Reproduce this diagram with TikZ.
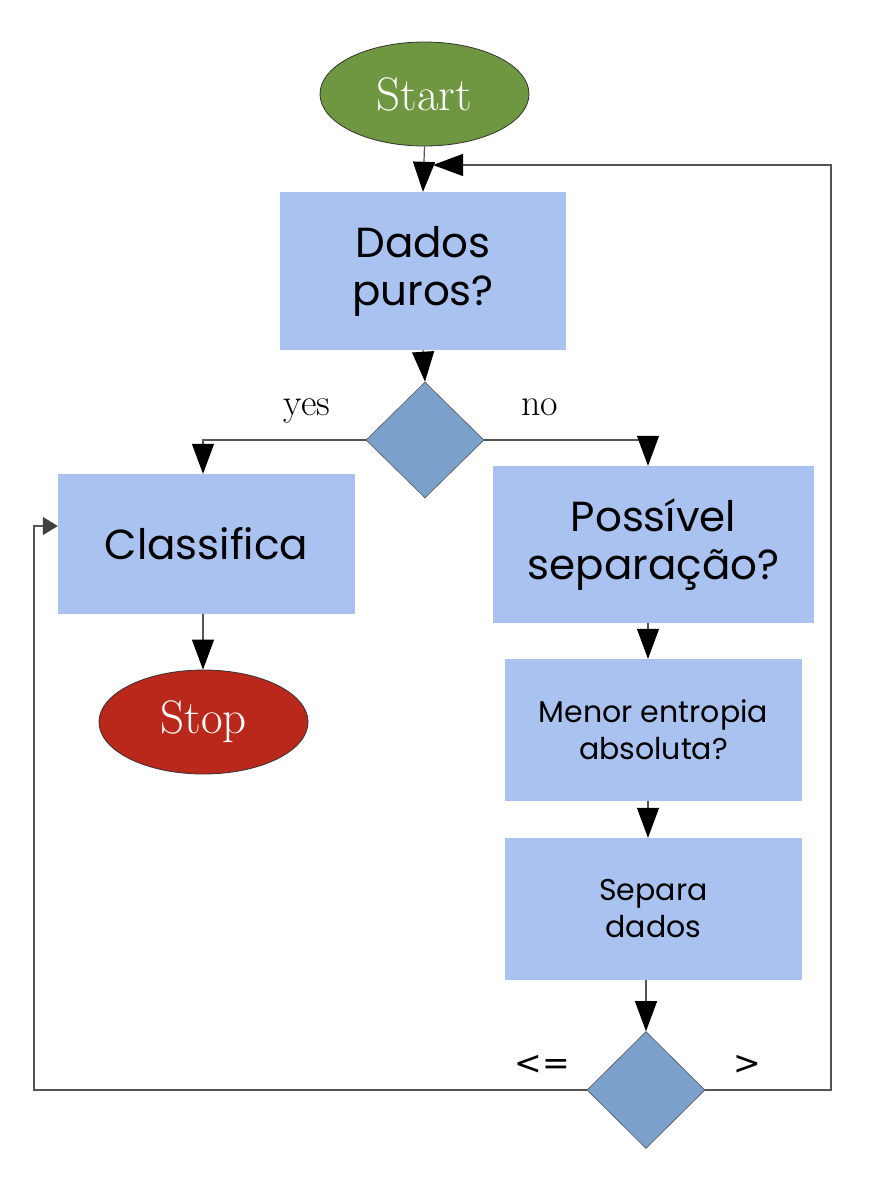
\documentclass[tikz,border=0pt]{standalone}
\usepackage{fontspec}
\newfontfamily\pop{Poppins}
\newfontfamily\djv{DejaVu Sans}
\usetikzlibrary{shapes.geometric,arrows.meta}
\definecolor{boxblue}{RGB}{170,194,239}
\definecolor{diablue}{RGB}{122,160,203}
\definecolor{startgreen}{RGB}{111,150,64}
\definecolor{stopred}{RGB}{186,39,27}
\definecolor{linegrey}{RGB}{85,85,85}
\tikzset{
  procbox/.style={rectangle, fill=boxblue, draw=none, inner sep=0pt, align=center, text=black, font=\pop\fontsize{42}{48}\selectfont},
  smallbox/.style={procbox, font=\pop\fontsize{30}{37}\selectfont},
  decide/.style={diamond, fill=diablue, draw=black!65, line width=0.6pt, inner sep=0pt},
  term/.style={ellipse, draw=black!80, line width=0.8pt, inner sep=0pt, text=white, font=\fontsize{47}{50}\selectfont},
  flow/.style={draw=linegrey, line width=1.2pt, -{Triangle[length=30pt,width=22pt,color=black]}},
  loopline/.style={draw=linegrey, line width=1.2pt},
  lbl/.style={font=\fontsize{38}{40}\selectfont, anchor=base},
  slbl/.style={font=\djv\fontsize{33}{36}\selectfont},
}
\begin{document}
\begin{tikzpicture}[x=1pt,y=-1pt]
\useasboundingbox (0,0) rectangle (896,1186);
\node[term, fill=startgreen, minimum width=209pt, minimum height=104pt] (start) at (424.5,94) {Start};
\node[procbox, minimum width=286pt, minimum height=158pt] (dados) at (423,271) {Dados\\puros?};
\node[decide, minimum width=118pt, minimum height=116pt] (d1) at (425,440) {};
\node[procbox, minimum width=297pt, minimum height=140pt] (classifica) at (206.5,544) {Classifica};
\node[procbox, minimum width=321pt, minimum height=157pt] (possivel) at (653.5,544.5) {Possível\\separação?};
\node[term, fill=stopred, minimum width=209pt, minimum height=104pt] (stop) at (203.5,722) {Stop};
\node[smallbox, minimum width=297pt, minimum height=142pt] (menor) at (653.5,730) {Menor entropia\\absoluta?};
\node[smallbox, minimum width=297pt, minimum height=142pt] (separa) at (653.5,909) {Separa\\dados};
\node[decide, minimum width=118pt, minimum height=117pt] (d2) at (646,1090) {};

\node[lbl] (yes) at (307,415) {yes};
\node[lbl] (no) at (540,415) {no};
\node[slbl] (le) at (542,1065) {<=};
\node[slbl] (gt) at (747,1065) {>};

\coordinate (rtop) at (831,165);
\coordinate (ltip) at (433,165);
\coordinate (lcorner) at (34,526);

\draw[flow] (start.south) -- (dados.north);
\draw[flow] (dados.south) -- (d1.north);
\draw[flow] (d1.west) -| ([xshift=-3.5pt]classifica.north);
\draw[flow] (d1.east) -| ([xshift=-5.5pt]possivel.north);
\draw[flow] ([xshift=-3.5pt]classifica.south) -- ([xshift=-0.5pt]stop.north);
\draw[flow] ([xshift=-5.5pt]possivel.south) -- ([xshift=-5.5pt]menor.north);
\draw[flow] ([xshift=-5.5pt]menor.south) -- ([xshift=-5.5pt]separa.north);
\draw[flow] (d2.north |- separa.south) -- (d2.north);
\draw[flow] (d2.east) -| (rtop) -- (ltip);
\draw[loopline, -{Triangle[length=15pt,width=18pt,color=black!75]}] (d2.west) -| (lcorner) -- (lcorner -| classifica.west);
\end{tikzpicture}
\end{document}
